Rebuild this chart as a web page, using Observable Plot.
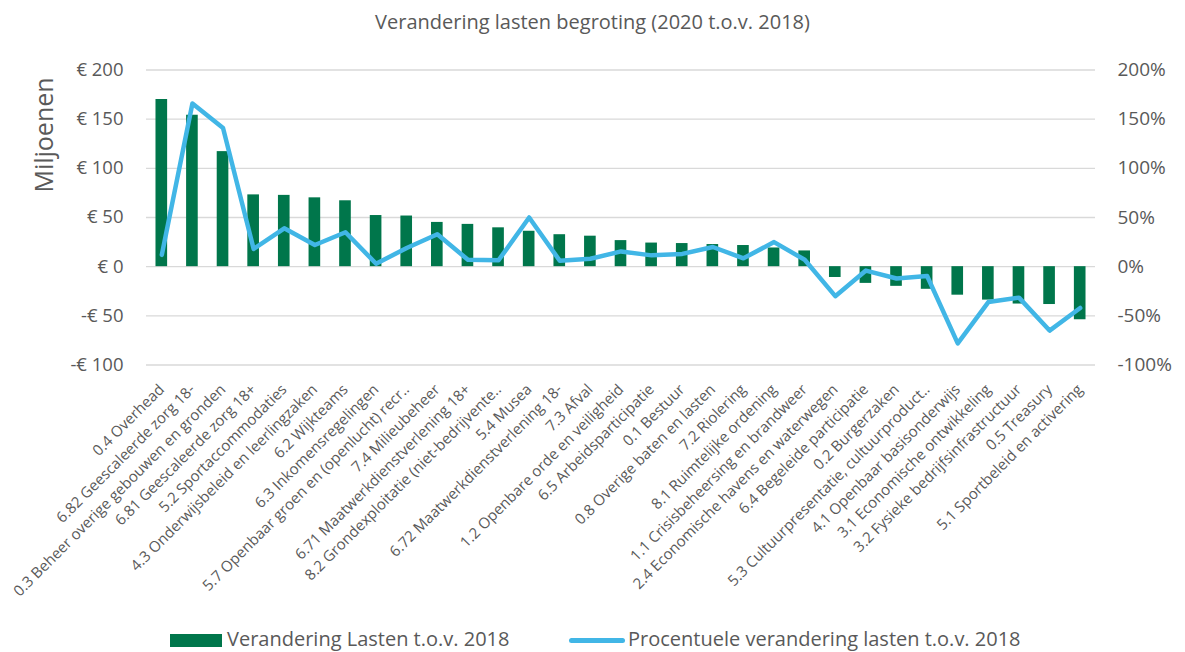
<!DOCTYPE html>
<html>
<head>
<meta charset="utf-8">
<script src="https://cdn.jsdelivr.net/npm/d3@7"></script>
<script src="https://cdn.jsdelivr.net/npm/@observablehq/plot@0.6"></script>
<style>
  body { margin: 0; background: #fff; font-family: "Open Sans", sans-serif; color: #595959; }
  #wrap { position: relative; width: 1185px; height: 652px; overflow: hidden; }
  #title { position: absolute; left: 0; top: 0; width: 1185px; height: 44px; line-height: 44px; text-align: center; font-size: 20px; color: #595959; }
  #chart { position: absolute; left: 0; top: 44px; }
  #ylabel { position: absolute; left: 43px; top: 135px; transform: translate(-50%, -50%) rotate(-90deg); font-size: 25px; color: #595959; white-space: nowrap; line-height: 1; }
  #legend { position: absolute; left: 0; top: 626px; width: 1185px; height: 26px; font-size: 20px; color: #595959; }
  .sw { position: absolute; }
  .lt { position: absolute; top: 0; line-height: 26px; white-space: nowrap; }
</style>
</head>
<body>
<div id="wrap">
  <div id="title">Verandering lasten begroting (2020 t.o.v. 2018)</div>
  <div id="chart"></div>
  <div id="ylabel">Miljoenen</div>
  <div id="legend">
    <div class="sw" style="left:170px;top:8px;width:52px;height:13px;background:#00764b"></div>
    <div class="lt" style="left:227px">Verandering Lasten t.o.v. 2018</div>
    <div class="sw" style="left:569px;top:12px;width:56px;height:5px;border-radius:3px;background:#41b6e6"></div>
    <div class="lt" style="left:628px">Procentuele verandering lasten t.o.v. 2018</div>
  </div>
</div>
<script>
const categories = [
  "0.4 Overhead",
  "6.82 Geescaleerde zorg 18-",
  "0.3 Beheer overige gebouwen en gronden",
  "6.81 Geescaleerde zorg 18+",
  "5.2 Sportaccommodaties",
  "4.3 Onderwijsbeleid en leerlingzaken",
  "6.2 Wijkteams",
  "6.3 Inkomensregelingen",
  "5.7 Openbaar groen en (openlucht) recr..",
  "7.4 Milieubeheer",
  "6.71 Maatwerkdienstverlening 18+",
  "8.2 Grondexploitatie (niet-bedrijvente..",
  "5.4 Musea",
  "6.72 Maatwerkdienstverlening 18-",
  "7.3 Afval",
  "1.2 Openbare orde en veiligheid",
  "6.5 Arbeidsparticipatie",
  "0.1 Bestuur",
  "0.8 Overige baten en lasten",
  "7.2 Riolering",
  "8.1 Ruimtelijke ordening",
  "1.1 Crisisbeheersing en brandweer",
  "2.4 Economische havens en waterwegen",
  "6.4 Begeleide participatie",
  "0.2 Burgerzaken",
  "5.3 Cultuurpresentatie, cultuurproduct..",
  "4.1 Openbaar basisonderwijs",
  "3.1 Economische ontwikkeling",
  "3.2 Fysieke bedrijfsinfrastructuur",
  "0.5 Treasury",
  "5.1 Sportbeleid en activering"
];
// Verandering Lasten t.o.v. 2018 (miljoenen euro)
const lastenChange = [170, 154, 117, 73, 72.5, 70, 67, 52, 51.5, 45, 43, 39.5, 36,
  32.5, 31, 26.5, 24, 23.5, 22.5, 21.5, 19, 16,
  -11, -17, -20, -23, -29, -34, -38, -38.5, -54];
// Procentuele verandering lasten t.o.v. 2018 (%)
const pctChange = [12, 166, 141, 18, 39, 22, 35, 3, 19, 33, 7, 6.5, 50,
  6, 8, 15.5, 11.5, 13, 20, 8.5, 25, 7,
  -30, -4, -12, -9.5, -78, -36, -31.5, -65, -42];
const leftTicks = [-100, -50, 0, 50, 100, 150, 200];
const rightTicks = [-100, -50, 0, 50, 100, 150, 200];

const data = categories.map((c, i) => ({cat: c, val: lastenChange[i], pct: pctChange[i]}));

const eur = d => (d < 0 ? "-€ " + Math.abs(d) : "€ " + d);

const chart = Plot.plot({
  width: 1185,
  height: 580,
  marginTop: 25.5,
  marginBottom: 259.5,
  marginLeft: 146,
  marginRight: 90,
  style: {fontFamily: "'Open Sans', sans-serif", fontSize: "18px", color: "#595959", background: "#fff"},
  x: {domain: categories, paddingInner: 0.62, paddingOuter: 0.31, round: false, label: null},
  y: {domain: [-100, 200], label: null},
  marks: [
    Plot.gridY(leftTicks, {stroke: "#d9d9d9", strokeOpacity: 1, strokeWidth: 1.3}),
    Plot.barY(data, {x: "cat", y: "val", fill: "#00764b"}),
    Plot.line(data, {x: "cat", y: "pct", stroke: "#41b6e6", strokeWidth: 4.5, strokeLinejoin: "round", strokeLinecap: "round"}),
    Plot.axisY({anchor: "left", ticks: leftTicks, tickFormat: eur, tickSize: 0, tickPadding: 23, fontSize: 18.5, color: "#595959", label: null}),
    Plot.axisY({anchor: "right", ticks: rightTicks, tickFormat: d => d + "%", tickSize: 0, tickPadding: 22, textAnchor: "start", fontSize: 19, color: "#595959", label: null}),
    Plot.axisX({anchor: "bottom", tickRotate: -45, tickSize: 0, tickPadding: 22, fontSize: 15, color: "#595959", label: null})
  ]
});
document.getElementById("chart").appendChild(chart);
</script>
</body>
</html>
